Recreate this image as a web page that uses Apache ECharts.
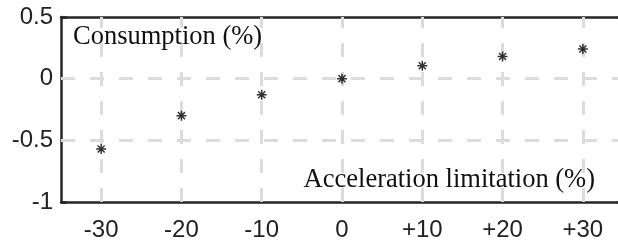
<!DOCTYPE html>
<html>
<head>
<meta charset="utf-8">
<script src="https://cdn.jsdelivr.net/npm/echarts@6/dist/echarts.min.js"></script>
<style>
  html, body { margin: 0; padding: 0; background: #fff; }
  #chart { width: 618px; height: 242px; }
</style>
</head>
<body>
<div id="chart"></div>
<script>
// acceleration limitation (%) and measured consumption change (%)
var accelLimits = [-30, -20, -10, 0, 10, 20, 30];
var consumption = [-0.57, -0.30, -0.13, 0.0, 0.105, 0.18, 0.24];
var xTicks = [-30, -20, -10, 0, 10, 20, 30];
var yTicks = [-1, -0.5, 0, 0.5];

var frameColor = '#262626';
var gridColor = '#dcdcdc';

// asterisk marker built from four bars
var asterisk = 'path://M8.5 0L11.5 0L11.5 20L8.5 20Z' +
  'M0 8.5L20 8.5L20 11.5L0 11.5Z' +
  'M4 1.9L18.1 16L16 18.1L1.9 4Z' +
  'M16 1.9L18.1 4L4 18.1L1.9 16Z';

function xLabel(v) {
  return v > 0 ? '+' + v : String(v);
}

var chart = echarts.init(document.getElementById('chart'));

var dashed = { color: gridColor, width: 3, type: [14, 15] };

chart.setOption({
  animation: false,
  grid: { left: 61, top: 17, width: 562, bottom: 40, containLabel: false, outerBoundsMode: 'none' },
  xAxis: [{
    type: 'value',
    min: -35,
    max: 35,
    position: 'bottom',
    axisLine: { show: true, onZero: false, lineStyle: { color: frameColor, width: 2.5 } },
    axisTick: { show: true, inside: true, length: 6, customValues: xTicks, lineStyle: { color: frameColor, width: 2.5 } },
    axisLabel: { customValues: xTicks, formatter: xLabel, margin: 16, color: '#222', fontFamily: 'Liberation Sans, Arial, sans-serif', fontSize: 24 },
    splitLine: { show: false }
  }, {
    type: 'value',
    min: -35,
    max: 35,
    position: 'top',
    axisLine: { show: true, onZero: false, lineStyle: { color: frameColor, width: 2.5 } },
    axisTick: { show: true, inside: true, length: 6, customValues: xTicks, lineStyle: { color: frameColor, width: 2.5 } },
    axisLabel: { show: false },
    splitLine: { show: false }
  }],
  yAxis: [{
    type: 'value',
    min: -1,
    max: 0.5,
    interval: 0.5,
    position: 'left',
    axisLine: { show: true, onZero: false, lineStyle: { color: frameColor, width: 2.5 } },
    axisTick: { show: true, inside: true, length: 6, lineStyle: { color: frameColor, width: 2.5 } },
    axisLabel: { margin: 8, color: '#222', fontFamily: 'Liberation Sans, Arial, sans-serif', fontSize: 24 },
    splitLine: { show: false }
  }, {
    type: 'value',
    min: -1,
    max: 0.5,
    interval: 0.5,
    position: 'right',
    axisLine: { show: true, onZero: false, lineStyle: { color: frameColor, width: 2.5 } },
    axisTick: { show: true, inside: true, length: 6, lineStyle: { color: frameColor, width: 2.5 } },
    axisLabel: { show: false },
    splitLine: { show: false }
  }],
  graphic: [{
    type: 'text',
    left: 73,
    top: 24,
    z: 10,
    style: { text: 'Consumption (%)', fill: '#111', font: '26.5px "Liberation Serif", "Times New Roman", serif' }
  }, {
    type: 'text',
    right: 23,
    top: 167,
    z: 10,
    style: { text: 'Acceleration limitation (%)', fill: '#111', font: '26.5px "Liberation Serif", "Times New Roman", serif' }
  }],
  series: [{
    type: 'scatter',
    xAxisIndex: 0,
    yAxisIndex: 0,
    symbol: asterisk,
    symbolSize: 10,
    itemStyle: { color: '#000' },
    data: accelLimits.map(function (x, i) { return [x, consumption[i]]; }),
    markLine: {
      silent: true,
      symbol: 'none',
      label: { show: false },
      lineStyle: dashed,
      z: 1,
      data: xTicks.map(function (v) { return { xAxis: v }; })
        .concat(yTicks.filter(function (v) { return v > -1 && v < 0.5; })
          .map(function (v) { return { yAxis: v }; }))
    }
  }]
});
</script>
</body>
</html>
